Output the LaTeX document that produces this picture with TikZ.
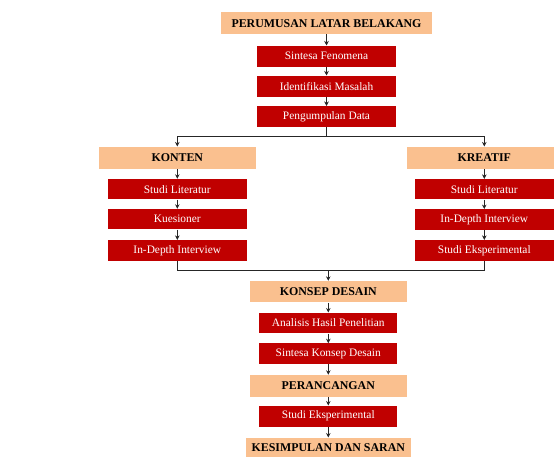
\documentclass[tikz,border=0pt]{standalone}
\usepackage{fontspec}
\setmainfont{Liberation Serif}
\usetikzlibrary{arrows.meta}
\definecolor{peach}{RGB}{250,192,143}
\definecolor{dred}{RGB}{192,0,0}
\begin{document}
\begin{tikzpicture}[x=1pt,y=-1pt,
 head/.style={fill=peach, inner sep=0pt, text=black, font=\bfseries\fontsize{11.9}{13}\selectfont},
 sub/.style={fill=dred, inner sep=0pt, text=white, font=\fontsize{11.4}{12}\selectfont},
 arr/.style={-{Stealth[length=4.5pt,width=4.5pt]}, line width=0.8pt, draw=black!85},
 ln/.style={line width=0.8pt, draw=black!85}]
\useasboundingbox (0,0) rectangle (554,457);
\clip (0,0) rectangle (554,457);
% top column
\node[head, minimum width=211pt, minimum height=22pt] (plb) at (326.5,23.3) {PERUMUSAN LATAR BELAKANG};
\node[sub, minimum width=138.4pt, minimum height=21pt] (sf) at (326.5,56.2) {Sintesa Fenomena};
\node[sub, minimum width=138.4pt, minimum height=21pt] (im) at (326.5,86.2) {Identifikasi Masalah};
\node[sub, minimum width=138.4pt, minimum height=21pt] (pd) at (326.5,116.7) {Pengumpulan Data};
% left column
\node[head, minimum width=156.7pt, minimum height=22.3pt] (konten) at (177.3,157.8) {KONTEN};
\node[sub, minimum width=138.4pt, minimum height=20.4pt] (k1) at (177.3,189.2) {Studi Literatur};
\node[sub, minimum width=138.4pt, minimum height=20.4pt] (k2) at (177.3,219.2) {Kuesioner};
\node[sub, minimum width=138.4pt, minimum height=20.4pt] (k3) at (177.3,250.3) {In-Depth Interview};
% right column
\node[head, minimum width=155pt, minimum height=22.3pt] (kreatif) at (484.3,157.8) {KREATIF};
\node[sub, minimum width=139pt, minimum height=20.4pt] (r1) at (484.3,189.3) {Studi Literatur};
\node[sub, minimum width=139pt, minimum height=20.4pt] (r2) at (484.3,219.5) {In-Depth Interview};
\node[sub, minimum width=139pt, minimum height=20.4pt] (r3) at (484.3,250.3) {Studi Eksperimental};
% bottom column
\node[head, minimum width=156.7pt, minimum height=21.3pt] (kd) at (328.3,291.7) {KONSEP DESAIN};
\node[sub, minimum width=137.7pt, minimum height=20.6pt] (a1) at (328.3,323) {Analisis Hasil Penelitian};
\node[sub, minimum width=137.7pt, minimum height=20.6pt] (a2) at (328.3,353.7) {Sintesa Konsep Desain};
\node[head, minimum width=156.7pt, minimum height=21.7pt] (per) at (328.3,385.8) {PERANCANGAN};
\node[sub, minimum width=137.7pt, minimum height=21pt] (se) at (328.3,416.2) {Studi Eksperimental};
\node[head, minimum width=165pt, minimum height=19pt] (ks) at (328.3,447.2) {KESIMPULAN DAN SARAN};
% connectors
\draw[arr] (plb.south) -- (sf.north);
\draw[arr] (sf.south) -- (im.north);
\draw[arr] (im.south) -- (pd.north);
\coordinate (j1) at (326.5,136);
\draw[ln] (pd.south) -- (j1);
\draw[arr] (j1) -| (konten.north);
\draw[arr] (j1) -| (kreatif.north);
\draw[arr] (konten.south) -- (k1.north);
\draw[arr] (k1.south) -- (k2.north);
\draw[arr] (k2.south) -- (k3.north);
\draw[arr] (kreatif.south) -- (r1.north);
\draw[arr] (r1.south) -- (r2.north);
\draw[arr] (r2.south) -- (r3.north);
\coordinate (j2) at (328.3,270.5);
\draw[ln] (k3.south) -- (k3.south |- j2) -- (r3.south |- j2) -- (r3.south);
\draw[arr] (j2) -- (kd.north);
\draw[arr] (kd.south) -- (a1.north);
\draw[arr] (a1.south) -- (a2.north);
\draw[arr] (a2.south) -- (per.north);
\draw[arr] (per.south) -- (se.north);
\draw[arr] (se.south) -- (ks.north);
\end{tikzpicture}
\end{document}
